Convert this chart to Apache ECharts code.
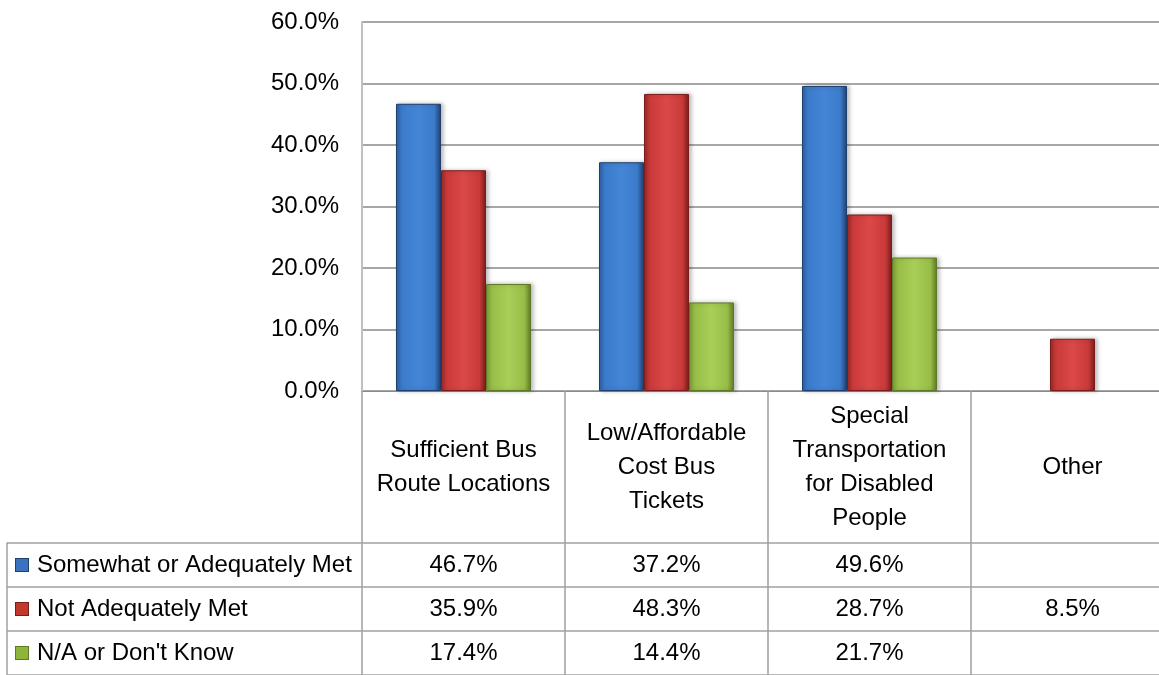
<!DOCTYPE html>
<html>
<head>
<meta charset="utf-8">
<script src="https://cdn.jsdelivr.net/npm/echarts@6/dist/echarts.min.js"></script>
<style>
html,body{margin:0;padding:0;background:#fff;}
#chart{width:1159px;height:675px;}
</style>
</head>
<body>
<div id="chart"></div>
<script>
// ---- data ----
const categories = ['Sufficient Bus Route Locations', 'Low/Affordable Cost Bus Tickets', 'Special Transportation for Disabled People', 'Other'];
const headerLabels = ['Sufficient Bus\nRoute Locations', 'Low/Affordable\nCost Bus\nTickets', 'Special\nTransportation\nfor Disabled\nPeople', 'Other'];
const seriesNames = ['Somewhat or Adequately Met', 'Not Adequately Met', "N/A or Don't Know"];
const somewhatMet = [46.7, 37.2, 49.6, null];
const notMet = [35.9, 48.3, 28.7, 8.5];
const dontKnow = [17.4, 14.4, 21.7, null];
const yTicks = [0, 10, 20, 30, 40, 50, 60];

const seriesValues = [somewhatMet, notMet, dontKnow];
const palette = [
  {edgeL:'#2f5f9f', mid:'#4585d6', main:'#3b7bcb', edgeR:'#213f6c', sq:'#3b72c0'},
  {edgeL:'#9a2626', mid:'#dc4848', main:'#c93a3a', edgeR:'#7a1c1c', sq:'#c0392b'},
  {edgeL:'#7a9a34', mid:'#a9cf58', main:'#98bd48', edgeR:'#5f7a26', sq:'#8db53c'}
];
const FONT = '"Liberation Sans", Arial, sans-serif';
const gridColor = '#8a8a8a';
const tableLine = '#a0a0a0';

function barGradient(p){
  return new echarts.graphic.LinearGradient(0,0,1,0,[
    {offset:0, color:p.edgeL},
    {offset:0.12, color:p.main},
    {offset:0.5, color:p.mid},
    {offset:0.85, color:p.main},
    {offset:1, color:p.edgeR}
  ]);
}

const barSeries = seriesNames.map((name, s) => ({
  name: name,
  type: 'bar',
  xAxisIndex: 0, yAxisIndex: 0,
  barWidth: 45,
  barGap: '0%',
  data: seriesValues[s],
  itemStyle: {
    color: barGradient(palette[s]),
    borderColor: palette[s].edgeR,
    borderWidth: 1,
    shadowColor: 'rgba(0,0,0,0.25)',
    shadowBlur: 4,
    shadowOffsetX: 2
  }
}));

const tableData = [];
seriesValues.forEach((arr, s) => {
  arr.forEach((v, i) => {
    if (v !== null && v !== undefined) tableData.push([categories[i], seriesNames[s], v]);
  });
});

const richLegend = {};
seriesNames.forEach((n, s) => {
  richLegend['s' + s] = {width: 12, height: 12, backgroundColor: palette[s].sq, borderColor: palette[s].edgeR, borderWidth: 1};
});
richLegend.t = {fontSize: 24, color: '#000', fontFamily: FONT, padding: [0,0,0,9]};

const chart = echarts.init(document.getElementById('chart'), null, {renderer: 'canvas'});
chart.setOption({
  animation: false,
  backgroundColor: '#fff',
  grid: [
    {left: 362, top: 22, width: 812, height: 369, outerBoundsMode: 'none', containLabel: false},
    {left: 362, top: 543, width: 812, height: 132, outerBoundsMode: 'none', containLabel: false},
    {left: 7, top: 543, width: 355, height: 132, outerBoundsMode: 'none', containLabel: false}
  ],
  xAxis: [
    {
      gridIndex: 0, type: 'category', data: categories, boundaryGap: true,
      axisLine: {show: true, lineStyle: {color: gridColor}},
      axisTick: {show: true, interval: 0, length: 284, lineStyle: {color: tableLine, width: 1.5}},
      axisLabel: {
        interval: 0, margin: 76, verticalAlign: 'middle', lineHeight: 34,
        fontSize: 24, fontFamily: FONT, color: '#000',
        formatter: (v, i) => headerLabels[i]
      }
    },
    {
      gridIndex: 1, type: 'category', data: categories,
      axisLine: {show: false}, axisTick: {show: false}, axisLabel: {show: false}, splitLine: {show: false}
    },
    {
      gridIndex: 2, type: 'value', min: 0, max: 1, show: false
    }
  ],
  yAxis: [
    {
      gridIndex: 0, type: 'value', min: yTicks[0], max: yTicks[yTicks.length-1], interval: 10,
      axisLine: {show: true, lineStyle: {color: '#c0c0c0', width: 2}},
      axisTick: {show: false},
      axisLabel: {margin: 23, fontSize: 24, fontFamily: FONT, color: '#000', formatter: v => v.toFixed(1) + '%'},
      splitLine: {show: true, lineStyle: {color: gridColor, width: 1.5}}
    },
    {
      gridIndex: 1, type: 'category', data: seriesNames, inverse: true,
      axisLine: {show: false}, axisTick: {show: false}, axisLabel: {show: false},
      splitLine: {show: true, interval: 0, lineStyle: {color: tableLine, width: 1.5}}
    },
    {
      gridIndex: 2, type: 'category', data: seriesNames, inverse: true,
      axisLine: {show: true, lineStyle: {color: tableLine, width: 1.5}},
      axisTick: {show: false},
      splitLine: {show: true, interval: 0, lineStyle: {color: tableLine, width: 1.5}},
      axisLabel: {
        inside: true, margin: 9, align: 'left', interval: 0,
        formatter: (v, i) => '{s' + i + '|}{t|' + v + '}',
        rich: richLegend
      }
    }
  ],
  series: barSeries.concat([{
    type: 'scatter',
    xAxisIndex: 1, yAxisIndex: 1,
    symbol: 'rect',
    symbolSize: 1,
    itemStyle: {color: '#ffffff', opacity: 1},
    data: tableData,
    label: {
      show: true, position: 'inside', fontSize: 24, fontFamily: FONT, color: '#000',
      textBorderWidth: 0, textBorderColor: 'transparent',
      formatter: p => p.value[2].toFixed(1) + '%'
    },
    emphasis: {disabled: true}
  }])
});
</script>
</body>
</html>
